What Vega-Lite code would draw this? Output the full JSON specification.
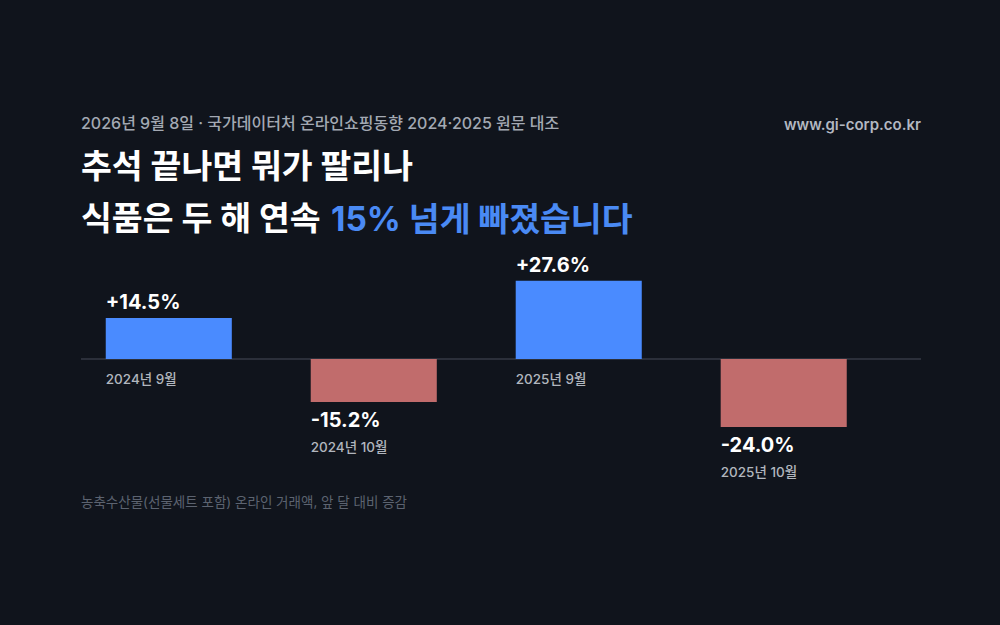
{
  "$schema": "https://vega.github.io/schema/vega-lite/v6.json",
  "background": "#10141c",
  "padding": {"left": 80, "right": 80, "top": 116, "bottom": 0},
  "bounds": "flush",
  "spacing": 0,
  "config": {
    "view": {"stroke": null},
    "font": "Inter, Noto Sans CJK KR, sans-serif",
    "title": {"anchor": "start", "offset": 0, "baseline": "alphabetic", "font": "Inter, Noto Sans CJK KR, sans-serif"},
    "locale": {"number": {"decimal": ".", "thousands": ",", "grouping": [3], "currency": ["", ""], "minus": "-"}}
  },
  "datasets": {
    "changes": [
      {"period": "2024년 9월", "change": 0.145},
      {"period": "2024년 10월", "change": -0.152},
      {"period": "2025년 9월", "change": 0.276},
      {"period": "2025년 10월", "change": -0.240}
    ],
    "none": []
  },
  "vconcat": [
    {
      "width": 1, "height": 0.01,
      "data": {"name": "none"}, "mark": "text", "encoding": {},
      "title": {"text": "2026년 9월 8일 · 국가데이터처 온라인쇼핑동향 2024·2025 원문 대조", "fontSize": 16, "fontWeight": 500, "color": "#a3a9b3"}
    },
    {
      "width": 840, "height": 51.7,
      "data": {"name": "none"}, "mark": "text", "encoding": {},
      "title": {"text": "www.gi-corp.co.kr", "anchor": "end", "fontSize": 15, "fontWeight": 600, "color": "#b3b8c1"}
    },
    {
      "width": 1, "height": 51.5,
      "data": {"name": "none"}, "mark": "text", "encoding": {},
      "title": {"text": "추석 끝나면 뭐가 팔리나", "fontSize": 33.5, "fontWeight": 700, "color": "#ffffff"}
    },
    {
      "width": 1, "height": 0.01,
      "data": {"name": "none"}, "mark": "text", "encoding": {},
      "title": {"text": "식품은 두 해 연속", "fontSize": 33.5, "fontWeight": 700, "color": "#ffffff"}
    },
    {
      "width": 1, "height": 31.8,
      "data": {"name": "none"}, "mark": "text", "encoding": {},
      "title": {"text": "15% 넘게 빠졌습니다", "dx": 250, "fontSize": 33.5, "fontWeight": 700, "color": "#4a8af4"}
    },
    {
      "width": 840, "height": 233.5,
      "data": {"name": "changes"},
      "encoding": {
        "x": {"field": "period", "type": "nominal", "sort": null, "axis": null,
              "scale": {"paddingInner": 0.385, "paddingOuter": 0.2415, "align": 0.25}}
      },
      "layer": [
        {
          "mark": {"type": "rule", "color": "#2c313b", "strokeWidth": 1.5},
          "encoding": {"x": null, "y": {"datum": 0, "type": "quantitative", "scale": {"domain": [-0.524, 0.30], "nice": false}, "axis": null}}
        },
        {
          "mark": {"type": "bar"},
          "encoding": {
            "y": {"field": "change", "type": "quantitative", "scale": {"domain": [-0.524, 0.30], "nice": false}, "axis": null},
            "y2": {"datum": 0},
            "color": {"condition": {"test": "datum.change > 0", "value": "#4a8bff"}, "value": "#c16c6c"}
          }
        },
        {
          "transform": [{"filter": "datum.change > 0"}],
          "mark": {"type": "text", "align": "left", "baseline": "alphabetic", "dy": -8.5, "fontSize": 20, "fontWeight": 700, "color": "#ffffff"},
          "encoding": {
            "x": {"field": "period", "type": "nominal", "sort": null, "bandPosition": 0},
            "y": {"field": "change", "type": "quantitative"},
            "text": {"field": "change", "type": "quantitative", "format": "+.1%"}
          }
        },
        {
          "transform": [{"filter": "datum.change < 0"}],
          "mark": {"type": "text", "align": "left", "baseline": "top", "dy": 9, "fontSize": 20, "fontWeight": 700, "color": "#ffffff"},
          "encoding": {
            "x": {"field": "period", "type": "nominal", "sort": null, "bandPosition": 0},
            "y": {"field": "change", "type": "quantitative"},
            "text": {"field": "change", "type": "quantitative", "format": ".1%"}
          }
        },
        {
          "transform": [{"filter": "datum.change > 0"}],
          "mark": {"type": "text", "align": "left", "baseline": "top", "dy": 14, "fontSize": 13.5, "fontWeight": 500, "color": "#b1b6be"},
          "encoding": {
            "x": {"field": "period", "type": "nominal", "sort": null, "bandPosition": 0},
            "y": {"datum": 0, "type": "quantitative"},
            "text": {"field": "period", "type": "nominal"}
          }
        },
        {
          "transform": [{"filter": "datum.change < 0"}],
          "mark": {"type": "text", "align": "left", "baseline": "top", "dy": 39, "fontSize": 13.5, "fontWeight": 500, "color": "#b1b6be"},
          "encoding": {
            "x": {"field": "period", "type": "nominal", "sort": null, "bandPosition": 0},
            "y": {"field": "change", "type": "quantitative"},
            "text": {"field": "period", "type": "nominal"}
          }
        }
      ]
    },
    {
      "width": 1, "height": 128,
      "data": {"name": "none"}, "mark": "text", "encoding": {},
      "title": {"text": "농축수산물(선물세트 포함) 온라인 거래액, 앞 달 대비 증감", "dy": 5.5, "fontSize": 13.5, "fontWeight": 400, "color": "#5c6370"}
    }
  ]
}
